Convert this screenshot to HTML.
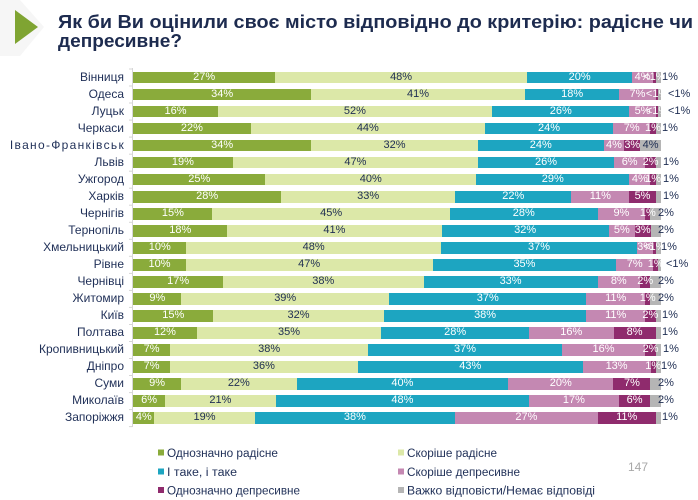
<!DOCTYPE html>
<html>
<head>
<meta charset="utf-8">
<style>
html,body{margin:0;padding:0;}
body{width:698px;height:500px;position:relative;background:#fff;overflow:hidden;font-family:"Liberation Sans","DejaVu Sans",sans-serif;}
svg.bg{position:absolute;left:0;top:0;}
.row{position:absolute;left:133.3px;width:527.7px;height:11.6px;display:flex;}
.s{min-width:0;display:flex;justify-content:center;align-items:center;height:100%;font:11px/11.6px "Liberation Sans",sans-serif;color:#fff;white-space:nowrap;}
.s span{position:relative;z-index:2;}
.a{background:#8aab3b;}
.b{background:#dce8a8;color:#1e2d52;}
.c{background:#1da5c1;}
.d{background:#c488b2;}
.e{background:#8f2b6d;}
.f{background:#b5b5b5;color:#1e2d52;}
.lab{position:absolute;left:0;width:124px;text-align:right;font:12px/11.6px "Liberation Sans",sans-serif;color:#1f2f57;white-space:nowrap;}
.g{position:absolute;font:11px/11.6px "Liberation Sans",sans-serif;color:#1e2d52;white-space:nowrap;z-index:3;}
</style>
</head>
<body>
<svg class="bg" width="698" height="500" viewBox="0 0 698 500">
  <polygon points="0,0 20,0 44,27 20,56 0,56" fill="#f6f6f6"/>
  <polygon points="15,10 38,27 15,44" fill="#7fa432"/>
  <text x="58" y="28" font-family="Liberation Sans, sans-serif" font-weight="bold" font-size="18.5" fill="#1d2b4f" textLength="635" lengthAdjust="spacingAndGlyphs">Як би Ви оцінили своє місто відповідно до критерію: радісне чи</text>
  <text x="58" y="47" font-family="Liberation Sans, sans-serif" font-weight="bold" font-size="18.5" fill="#1d2b4f" textLength="124" lengthAdjust="spacingAndGlyphs">депресивне?</text>
  <line x1="132.5" y1="68" x2="132.5" y2="427" stroke="#d6d6d6" stroke-width="1"/>
  <g stroke="#d6d6d6" stroke-width="1">
    <line x1="129" y1="69" x2="132.5" y2="69"/>
    <line x1="129" y1="86" x2="132.5" y2="86"/>
    <line x1="129" y1="103" x2="132.5" y2="103"/>
    <line x1="129" y1="120.1" x2="132.5" y2="120.1"/>
    <line x1="129" y1="137.1" x2="132.5" y2="137.1"/>
    <line x1="129" y1="154.2" x2="132.5" y2="154.2"/>
    <line x1="129" y1="171.2" x2="132.5" y2="171.2"/>
    <line x1="129" y1="188.2" x2="132.5" y2="188.2"/>
    <line x1="129" y1="205.2" x2="132.5" y2="205.2"/>
    <line x1="129" y1="222.3" x2="132.5" y2="222.3"/>
    <line x1="129" y1="239.3" x2="132.5" y2="239.3"/>
    <line x1="129" y1="256.3" x2="132.5" y2="256.3"/>
    <line x1="129" y1="273.4" x2="132.5" y2="273.4"/>
    <line x1="129" y1="290.4" x2="132.5" y2="290.4"/>
    <line x1="129" y1="307.4" x2="132.5" y2="307.4"/>
    <line x1="129" y1="324.5" x2="132.5" y2="324.5"/>
    <line x1="129" y1="341.5" x2="132.5" y2="341.5"/>
    <line x1="129" y1="358.5" x2="132.5" y2="358.5"/>
    <line x1="129" y1="375.5" x2="132.5" y2="375.5"/>
    <line x1="129" y1="392.6" x2="132.5" y2="392.6"/>
    <line x1="129" y1="409.6" x2="132.5" y2="409.6"/>
    <line x1="129" y1="426.6" x2="132.5" y2="426.6"/>
  </g>
  <!-- legend -->
  <rect x="158" y="449.5" width="6" height="6" fill="#8aab3b"/>
  <text x="167" y="457" font-family="Liberation Sans, sans-serif" font-size="11.5" fill="#1f2f57" textLength="111" lengthAdjust="spacingAndGlyphs">Однозначно радісне</text>
  <rect x="158" y="468.5" width="6" height="6" fill="#1da5c1"/>
  <text x="167" y="476" font-family="Liberation Sans, sans-serif" font-size="11.5" fill="#1f2f57" textLength="70" lengthAdjust="spacingAndGlyphs">І таке, і таке</text>
  <rect x="158" y="487" width="6" height="6" fill="#8f2b6d"/>
  <text x="167" y="494.5" font-family="Liberation Sans, sans-serif" font-size="11.5" fill="#1f2f57" textLength="133" lengthAdjust="spacingAndGlyphs">Однозначно депресивне</text>
  <rect x="398" y="449.5" width="6" height="6" fill="#dce8a8"/>
  <text x="407" y="457" font-family="Liberation Sans, sans-serif" font-size="11.5" fill="#1f2f57" textLength="90" lengthAdjust="spacingAndGlyphs">Скоріше радісне</text>
  <rect x="398" y="468.5" width="6" height="6" fill="#c488b2"/>
  <text x="407" y="476" font-family="Liberation Sans, sans-serif" font-size="11.5" fill="#1f2f57" textLength="113" lengthAdjust="spacingAndGlyphs">Скоріше депресивне</text>
  <rect x="398" y="487" width="6" height="6" fill="#b5b5b5"/>
  <text x="407" y="494.5" font-family="Liberation Sans, sans-serif" font-size="11.5" fill="#1f2f57" textLength="188" lengthAdjust="spacingAndGlyphs">Важко відповісти/Немає відповіді</text>
  <text x="628" y="471" font-family="Liberation Sans, sans-serif" font-size="12" fill="#a8a8a8">147</text>
</svg>

<!-- Row labels -->
<div class="lab" style="top:71.7px">Вінниця</div>
<div class="lab" style="top:88.73px">Одеса</div>
<div class="lab" style="top:105.76px">Луцьк</div>
<div class="lab" style="top:122.79px">Черкаси</div>
<div class="lab" style="top:139.82px;letter-spacing:1.3px;left:1px">Івано-Франківськ</div>
<div class="lab" style="top:156.85px">Львів</div>
<div class="lab" style="top:173.88px">Ужгород</div>
<div class="lab" style="top:190.91px">Харків</div>
<div class="lab" style="top:207.94px">Чернігів</div>
<div class="lab" style="top:224.97px">Тернопіль</div>
<div class="lab" style="top:242px">Хмельницький</div>
<div class="lab" style="top:259.03px">Рівне</div>
<div class="lab" style="top:276.06px">Чернівці</div>
<div class="lab" style="top:293.09px">Житомир</div>
<div class="lab" style="top:310.12px">Київ</div>
<div class="lab" style="top:327.15px">Полтава</div>
<div class="lab" style="top:344.18px">Кропивницький</div>
<div class="lab" style="top:361.21px">Дніпро</div>
<div class="lab" style="top:378.24px">Суми</div>
<div class="lab" style="top:395.27px">Миколаїв</div>
<div class="lab" style="top:412.3px">Запоріжжя</div>

<!-- Bars -->
<div class="row" style="top:71.7px">
<div class="s a" style="flex:27 0 0px"><span>27%</span></div><div class="s b" style="flex:48 0 0px"><span>48%</span></div><div class="s c" style="flex:20 0 0px"><span>20%</span></div><div class="s d" style="flex:4 0 0px"><span>4%</span></div><div class="s e" style="flex:0.5 0 0px"><span>&lt;1%</span></div><div class="s f" style="flex:1 0 0px"></div>
</div>
<div class="g" style="top:71.7px;left:662px">1%</div>

<div class="row" style="top:88.73px">
<div class="s a" style="flex:34 0 0px"><span>34%</span></div><div class="s b" style="flex:41 0 0px"><span>41%</span></div><div class="s c" style="flex:18 0 0px"><span>18%</span></div><div class="s d" style="flex:7 0 0px"><span>7%</span></div><div class="s e" style="flex:0.5 0 0px"><span>&lt;1%</span></div><div class="s f" style="flex:0.5 0 0px"></div>
</div>
<div class="g" style="top:88.73px;left:668px">&lt;1%</div>

<div class="row" style="top:105.76px">
<div class="s a" style="flex:16 0 0px"><span>16%</span></div><div class="s b" style="flex:52 0 0px"><span>52%</span></div><div class="s c" style="flex:26 0 0px"><span>26%</span></div><div class="s d" style="flex:5 0 0px"><span>5%</span></div><div class="s e" style="flex:0.5 0 0px"><span>&lt;1%</span></div><div class="s f" style="flex:0.5 0 0px"></div>
</div>
<div class="g" style="top:105.76px;left:668px">&lt;1%</div>

<div class="row" style="top:122.79px">
<div class="s a" style="flex:22 0 0px"><span>22%</span></div><div class="s b" style="flex:44 0 0px"><span>44%</span></div><div class="s c" style="flex:24 0 0px"><span>24%</span></div><div class="s d" style="flex:7 0 0px"><span>7%</span></div><div class="s e" style="flex:1 0 0px"><span>1%</span></div><div class="s f" style="flex:1 0 0px"></div>
</div>
<div class="g" style="top:122.79px;left:662px">1%</div>

<div class="row" style="top:139.82px">
<div class="s a" style="flex:34 0 0px"><span>34%</span></div><div class="s b" style="flex:32 0 0px"><span>32%</span></div><div class="s c" style="flex:24 0 0px"><span>24%</span></div><div class="s d" style="flex:4 0 0px"><span>4%</span></div><div class="s e" style="flex:3 0 0px"><span>3%</span></div><div class="s f" style="flex:4 0 0px"><span>4%</span></div>
</div>

<div class="row" style="top:156.85px">
<div class="s a" style="flex:19 0 0px"><span>19%</span></div><div class="s b" style="flex:47 0 0px"><span>47%</span></div><div class="s c" style="flex:26 0 0px"><span>26%</span></div><div class="s d" style="flex:6 0 0px"><span>6%</span></div><div class="s e" style="flex:2 0 0px"><span>2%</span></div><div class="s f" style="flex:1 0 0px"></div>
</div>
<div class="g" style="top:156.85px;left:663px">1%</div>

<div class="row" style="top:173.88px">
<div class="s a" style="flex:25 0 0px"><span>25%</span></div><div class="s b" style="flex:40 0 0px"><span>40%</span></div><div class="s c" style="flex:29 0 0px"><span>29%</span></div><div class="s d" style="flex:4 0 0px"><span>4%</span></div><div class="s e" style="flex:1 0 0px"><span>1%</span></div><div class="s f" style="flex:1 0 0px"></div>
</div>
<div class="g" style="top:173.88px;left:663px">1%</div>

<div class="row" style="top:190.91px">
<div class="s a" style="flex:28 0 0px"><span>28%</span></div><div class="s b" style="flex:33 0 0px"><span>33%</span></div><div class="s c" style="flex:22 0 0px"><span>22%</span></div><div class="s d" style="flex:11 0 0px"><span>11%</span></div><div class="s e" style="flex:5 0 0px"><span>5%</span></div><div class="s f" style="flex:1 0 0px"></div>
</div>
<div class="g" style="top:190.91px;left:663px">1%</div>

<div class="row" style="top:207.94px">
<div class="s a" style="flex:15 0 0px"><span>15%</span></div><div class="s b" style="flex:45 0 0px"><span>45%</span></div><div class="s c" style="flex:28 0 0px"><span>28%</span></div><div class="s d" style="flex:9 0 0px"><span>9%</span></div><div class="s e" style="flex:1 0 0px"><span>1%</span></div><div class="s f" style="flex:2 0 0px"></div>
</div>
<div class="g" style="top:207.94px;left:658px">2%</div>

<div class="row" style="top:224.97px">
<div class="s a" style="flex:18 0 0px"><span>18%</span></div><div class="s b" style="flex:41 0 0px"><span>41%</span></div><div class="s c" style="flex:32 0 0px"><span>32%</span></div><div class="s d" style="flex:5 0 0px"><span>5%</span></div><div class="s e" style="flex:3 0 0px"><span>3%</span></div><div class="s f" style="flex:2 0 0px"></div>
</div>
<div class="g" style="top:224.97px;left:658px">2%</div>

<div class="row" style="top:242px">
<div class="s a" style="flex:10 0 0px"><span>10%</span></div><div class="s b" style="flex:48 0 0px"><span>48%</span></div><div class="s c" style="flex:37 0 0px"><span>37%</span></div><div class="s d" style="flex:3 0 0px"><span>3%</span></div><div class="s e" style="flex:0.5 0 0px"><span>&lt;1%</span></div><div class="s f" style="flex:1 0 0px"></div>
</div>
<div class="g" style="top:242px;left:661px">1%</div>

<div class="row" style="top:259.03px">
<div class="s a" style="flex:10 0 0px"><span>10%</span></div><div class="s b" style="flex:47 0 0px"><span>47%</span></div><div class="s c" style="flex:35 0 0px"><span>35%</span></div><div class="s d" style="flex:7 0 0px"><span>7%</span></div><div class="s e" style="flex:1 0 0px"><span>1%</span></div><div class="s f" style="flex:0.5 0 0px"></div>
</div>
<div class="g" style="top:259.03px;left:666px">&lt;1%</div>

<div class="row" style="top:276.06px">
<div class="s a" style="flex:17 0 0px"><span>17%</span></div><div class="s b" style="flex:38 0 0px"><span>38%</span></div><div class="s c" style="flex:33 0 0px"><span>33%</span></div><div class="s d" style="flex:8 0 0px"><span>8%</span></div><div class="s e" style="flex:2 0 0px"><span>2%</span></div><div class="s f" style="flex:2 0 0px"></div>
</div>
<div class="g" style="top:276.06px;left:658px">2%</div>

<div class="row" style="top:293.09px">
<div class="s a" style="flex:9 0 0px"><span>9%</span></div><div class="s b" style="flex:39 0 0px"><span>39%</span></div><div class="s c" style="flex:37 0 0px"><span>37%</span></div><div class="s d" style="flex:11 0 0px"><span>11%</span></div><div class="s e" style="flex:1 0 0px"><span>1%</span></div><div class="s f" style="flex:2 0 0px"></div>
</div>
<div class="g" style="top:293.09px;left:658px">2%</div>

<div class="row" style="top:310.12px">
<div class="s a" style="flex:15 0 0px"><span>15%</span></div><div class="s b" style="flex:32 0 0px"><span>32%</span></div><div class="s c" style="flex:38 0 0px"><span>38%</span></div><div class="s d" style="flex:11 0 0px"><span>11%</span></div><div class="s e" style="flex:2 0 0px"><span>2%</span></div><div class="s f" style="flex:1 0 0px"></div>
</div>
<div class="g" style="top:310.12px;left:662px">1%</div>

<div class="row" style="top:327.15px">
<div class="s a" style="flex:12 0 0px"><span>12%</span></div><div class="s b" style="flex:35 0 0px"><span>35%</span></div><div class="s c" style="flex:28 0 0px"><span>28%</span></div><div class="s d" style="flex:16 0 0px"><span>16%</span></div><div class="s e" style="flex:8 0 0px"><span>8%</span></div><div class="s f" style="flex:1 0 0px"></div>
</div>
<div class="g" style="top:327.15px;left:662px">1%</div>

<div class="row" style="top:344.18px">
<div class="s a" style="flex:7 0 0px"><span>7%</span></div><div class="s b" style="flex:38 0 0px"><span>38%</span></div><div class="s c" style="flex:37 0 0px"><span>37%</span></div><div class="s d" style="flex:16 0 0px"><span>16%</span></div><div class="s e" style="flex:2 0 0px"><span>2%</span></div><div class="s f" style="flex:1 0 0px"></div>
</div>
<div class="g" style="top:344.18px;left:663px">1%</div>

<div class="row" style="top:361.21px">
<div class="s a" style="flex:7 0 0px"><span>7%</span></div><div class="s b" style="flex:36 0 0px"><span>36%</span></div><div class="s c" style="flex:43 0 0px"><span>43%</span></div><div class="s d" style="flex:13 0 0px"><span>13%</span></div><div class="s e" style="flex:1 0 0px"><span>1%</span></div><div class="s f" style="flex:1 0 0px"></div>
</div>
<div class="g" style="top:361.21px;left:661px">1%</div>

<div class="row" style="top:378.24px">
<div class="s a" style="flex:9 0 0px"><span>9%</span></div><div class="s b" style="flex:22 0 0px"><span>22%</span></div><div class="s c" style="flex:40 0 0px"><span>40%</span></div><div class="s d" style="flex:20 0 0px"><span>20%</span></div><div class="s e" style="flex:7 0 0px"><span>7%</span></div><div class="s f" style="flex:2 0 0px"></div>
</div>
<div class="g" style="top:378.24px;left:658px">2%</div>

<div class="row" style="top:395.27px">
<div class="s a" style="flex:6 0 0px"><span>6%</span></div><div class="s b" style="flex:21 0 0px"><span>21%</span></div><div class="s c" style="flex:48 0 0px"><span>48%</span></div><div class="s d" style="flex:17 0 0px"><span>17%</span></div><div class="s e" style="flex:6 0 0px"><span>6%</span></div><div class="s f" style="flex:2 0 0px"></div>
</div>
<div class="g" style="top:395.27px;left:658px">2%</div>

<div class="row" style="top:412.3px">
<div class="s a" style="flex:4 0 0px"><span>4%</span></div><div class="s b" style="flex:19 0 0px"><span>19%</span></div><div class="s c" style="flex:38 0 0px"><span>38%</span></div><div class="s d" style="flex:27 0 0px"><span>27%</span></div><div class="s e" style="flex:11 0 0px"><span>11%</span></div><div class="s f" style="flex:1 0 0px"></div>
</div>
<div class="g" style="top:412.3px;left:662px">1%</div>

</body>
</html>
